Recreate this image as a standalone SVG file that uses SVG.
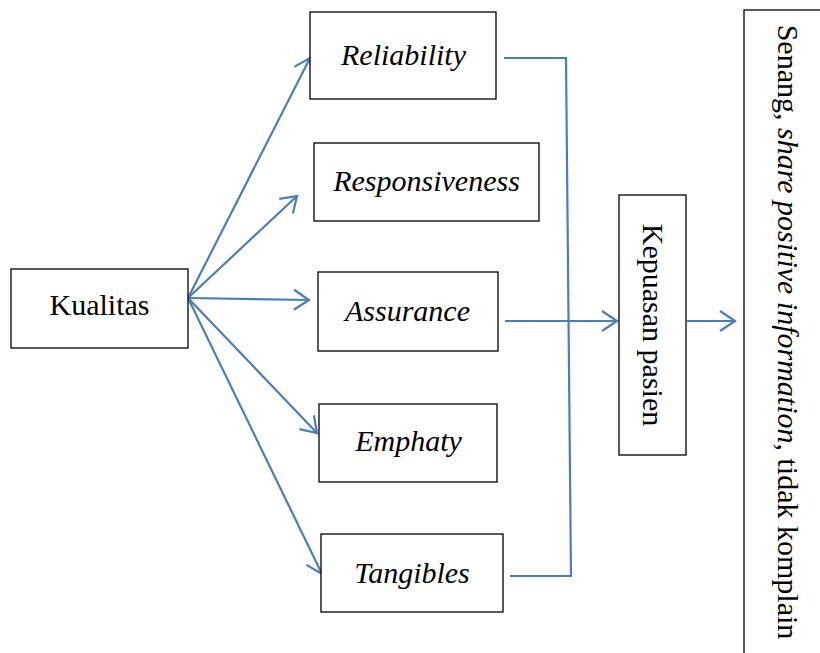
<svg xmlns="http://www.w3.org/2000/svg" width="820" height="653" viewBox="0 0 820 653">
<style>
.box{fill:#fff;stroke:#000;stroke-width:1.3}
.t{font-size:30px;fill:#000;text-anchor:middle}
.i{font-style:italic}
.c{fill:none;stroke:#4A7EBB;stroke-width:2.2}
</style>
<defs>
<marker id="arr" markerWidth="20" markerHeight="24" viewBox="-17 -12 20 24" refX="0" refY="0" orient="auto" markerUnits="userSpaceOnUse">
<path d="M-15,-10 L0,0 L-15,10" fill="none" stroke="#4A7EBB" stroke-width="2.2"/>
</marker>
</defs>
<rect width="820" height="653" fill="#fff"/>
<g id="connectors">
<line class="c" x1="188" y1="298" x2="310" y2="58" marker-end="url(#arr)"/>
<line class="c" x1="188" y1="298" x2="297" y2="196" marker-end="url(#arr)"/>
<line class="c" x1="188" y1="298" x2="309" y2="300" marker-end="url(#arr)"/>
<line class="c" x1="188" y1="298" x2="317" y2="433" marker-end="url(#arr)"/>
<line class="c" x1="188" y1="298" x2="322" y2="574" marker-end="url(#arr)"/>
<polyline class="c" points="504,58 566,58 571,576 510,576"/>
<line class="c" x1="505" y1="321" x2="617" y2="321" marker-end="url(#arr)"/>
<line class="c" x1="687" y1="321" x2="735" y2="321" marker-end="url(#arr)"/>
</g>
<g font-family="Liberation Serif, Times New Roman, serif">
<g id="kualitas"><rect class="box" x="11" y="269" width="177" height="79"/><text class="t" x="99.5" y="315">Kualitas</text></g>
<g id="reliability"><rect class="box" x="310" y="12" width="186" height="87"/><text class="t i" x="403.5" y="65">Reliability</text></g>
<g id="responsiveness"><rect class="box" x="314" y="143" width="225" height="78"/><text class="t i" x="426.5" y="191">Responsiveness</text></g>
<g id="assurance"><rect class="box" x="318" y="272" width="180" height="79"/><text class="t i" x="407.5" y="321">Assurance</text></g>
<g id="emphaty"><rect class="box" x="319" y="404" width="178" height="78"/><text class="t i" x="408.5" y="451">Emphaty</text></g>
<g id="tangibles"><rect class="box" x="321" y="534" width="182" height="78"/><text class="t i" x="412" y="583">Tangibles</text></g>
<g id="kepuasan"><rect class="box" x="619" y="195" width="67" height="260"/><text class="t" transform="translate(643,325) rotate(90)">Kepuasan pasien</text></g>
<g id="hasil"><rect class="box" x="744" y="10" width="100" height="660"/><text class="t" transform="translate(778,332) rotate(90)">Senang, <tspan class="i">share positive information</tspan>, tidak komplain</text></g>
</g>
</svg>
